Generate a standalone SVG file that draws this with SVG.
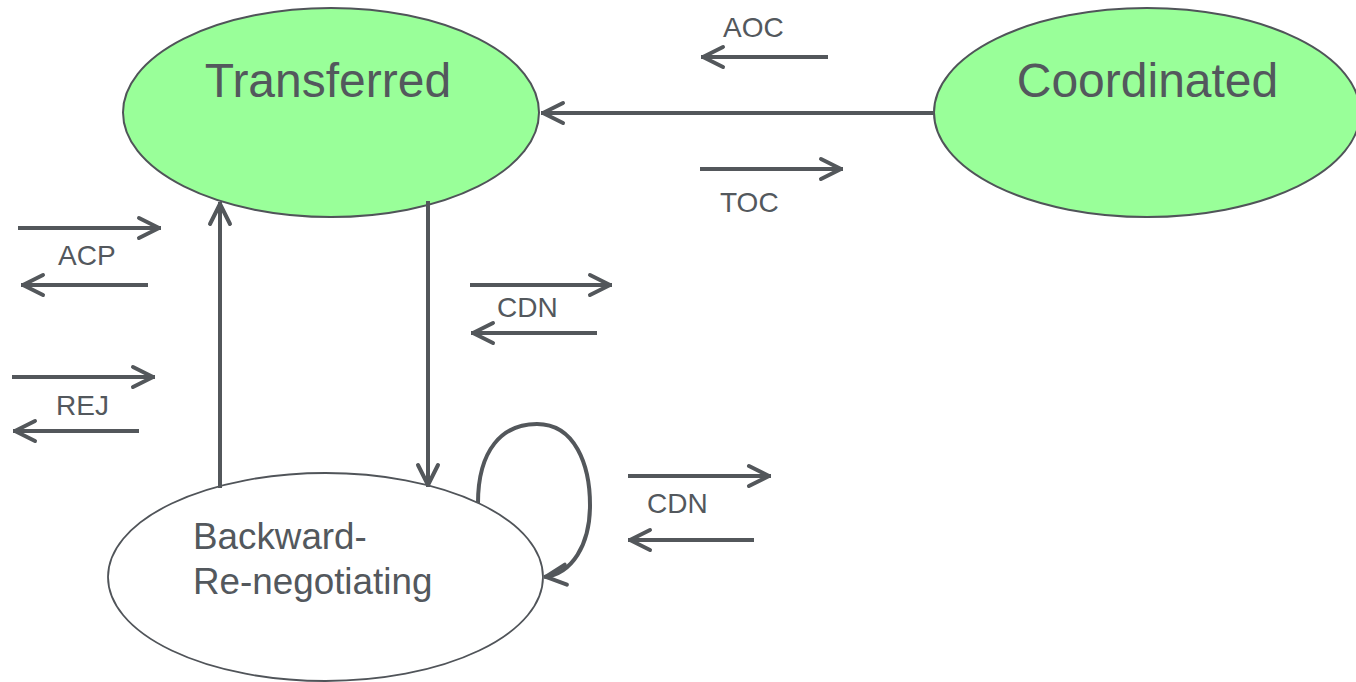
<svg xmlns="http://www.w3.org/2000/svg" width="1356" height="682" viewBox="0 0 1356 682">
  <style>
    .state { stroke: #505459; stroke-width: 2; }
    .active { fill: #99ff99; }
    .idle { fill: #ffffff; stroke-width: 1.8; }
    .title { font-family: "Liberation Sans", Arial, sans-serif; font-size: 48px; fill: #53585d; }
    .sub { font-family: "Liberation Sans", Arial, sans-serif; font-size: 36.8px; fill: #53585d; }
    .msg { font-family: "Liberation Sans", Arial, sans-serif; font-size: 28px; fill: #53585d; }
    .wire { fill: none; stroke: #53575b; stroke-width: 4; marker-end: url(#head); }
  </style>
  <defs>
    <marker id="head" markerUnits="userSpaceOnUse" viewBox="-26 -14 30 28" refX="0" refY="0" markerWidth="30" markerHeight="28" orient="auto" overflow="visible">
      <path d="M-22,-10 L-2,0 L-22,10" fill="none" stroke="#53575b" stroke-width="4" stroke-linecap="round" stroke-linejoin="round"/>
    </marker>
  </defs>
  <rect width="1356" height="682" fill="#ffffff"/>

  <g id="transferred">
    <ellipse class="state active" cx="331" cy="112.5" rx="208" ry="104.5"/>
    <text class="title" x="328" y="97" text-anchor="middle">Transferred</text>
  </g>

  <g id="coordinated">
    <ellipse class="state active" cx="1147" cy="112.5" rx="213" ry="104.5"/>
    <text class="title" x="1147.5" y="97" text-anchor="middle">Coordinated</text>
  </g>

  <g id="backward-renegotiating">
    <ellipse class="state idle" cx="325.5" cy="577" rx="217.5" ry="104"/>
    <text class="sub" x="193" y="549">Backward-</text>
    <text class="sub" x="193" y="594">Re-negotiating</text>
  </g>

  <g id="connectors">
    <!-- Coordinated -> Transferred -->
    <line class="wire" x1="934" y1="113" x2="541" y2="113"/>
    <!-- Backward-Re-negotiating -> Transferred -->
    <line class="wire" x1="220" y1="488" x2="220" y2="202"/>
    <!-- Transferred -> Backward-Re-negotiating -->
    <line class="wire" x1="428" y1="201" x2="428" y2="487"/>
    <!-- self transition -->
    <path class="wire" d="M478,503 C478,450 502,424 537,424 C575,424 590,465 590,505 C590,545 572,574 544,577"/>
  </g>

  <g id="messages">
    <line class="wire" x1="828" y1="57" x2="701" y2="57"/>
    <text class="msg" x="723" y="37">AOC</text>
    <line class="wire" x1="700" y1="169" x2="843" y2="169"/>
    <text class="msg" x="720" y="212">TOC</text>

    <line class="wire" x1="18" y1="228" x2="161" y2="228"/>
    <text class="msg" x="58" y="265">ACP</text>
    <line class="wire" x1="148" y1="285" x2="21" y2="285"/>

    <line class="wire" x1="12" y1="377" x2="155" y2="377"/>
    <text class="msg" x="56" y="415">REJ</text>
    <line class="wire" x1="139" y1="431" x2="13" y2="431"/>

    <line class="wire" x1="470" y1="285" x2="612" y2="285"/>
    <text class="msg" x="497" y="317">CDN</text>
    <line class="wire" x1="597" y1="333" x2="471" y2="333"/>

    <line class="wire" x1="628" y1="476" x2="771" y2="476"/>
    <text class="msg" x="647" y="513">CDN</text>
    <line class="wire" x1="754" y1="540" x2="628" y2="540"/>
  </g>
</svg>
